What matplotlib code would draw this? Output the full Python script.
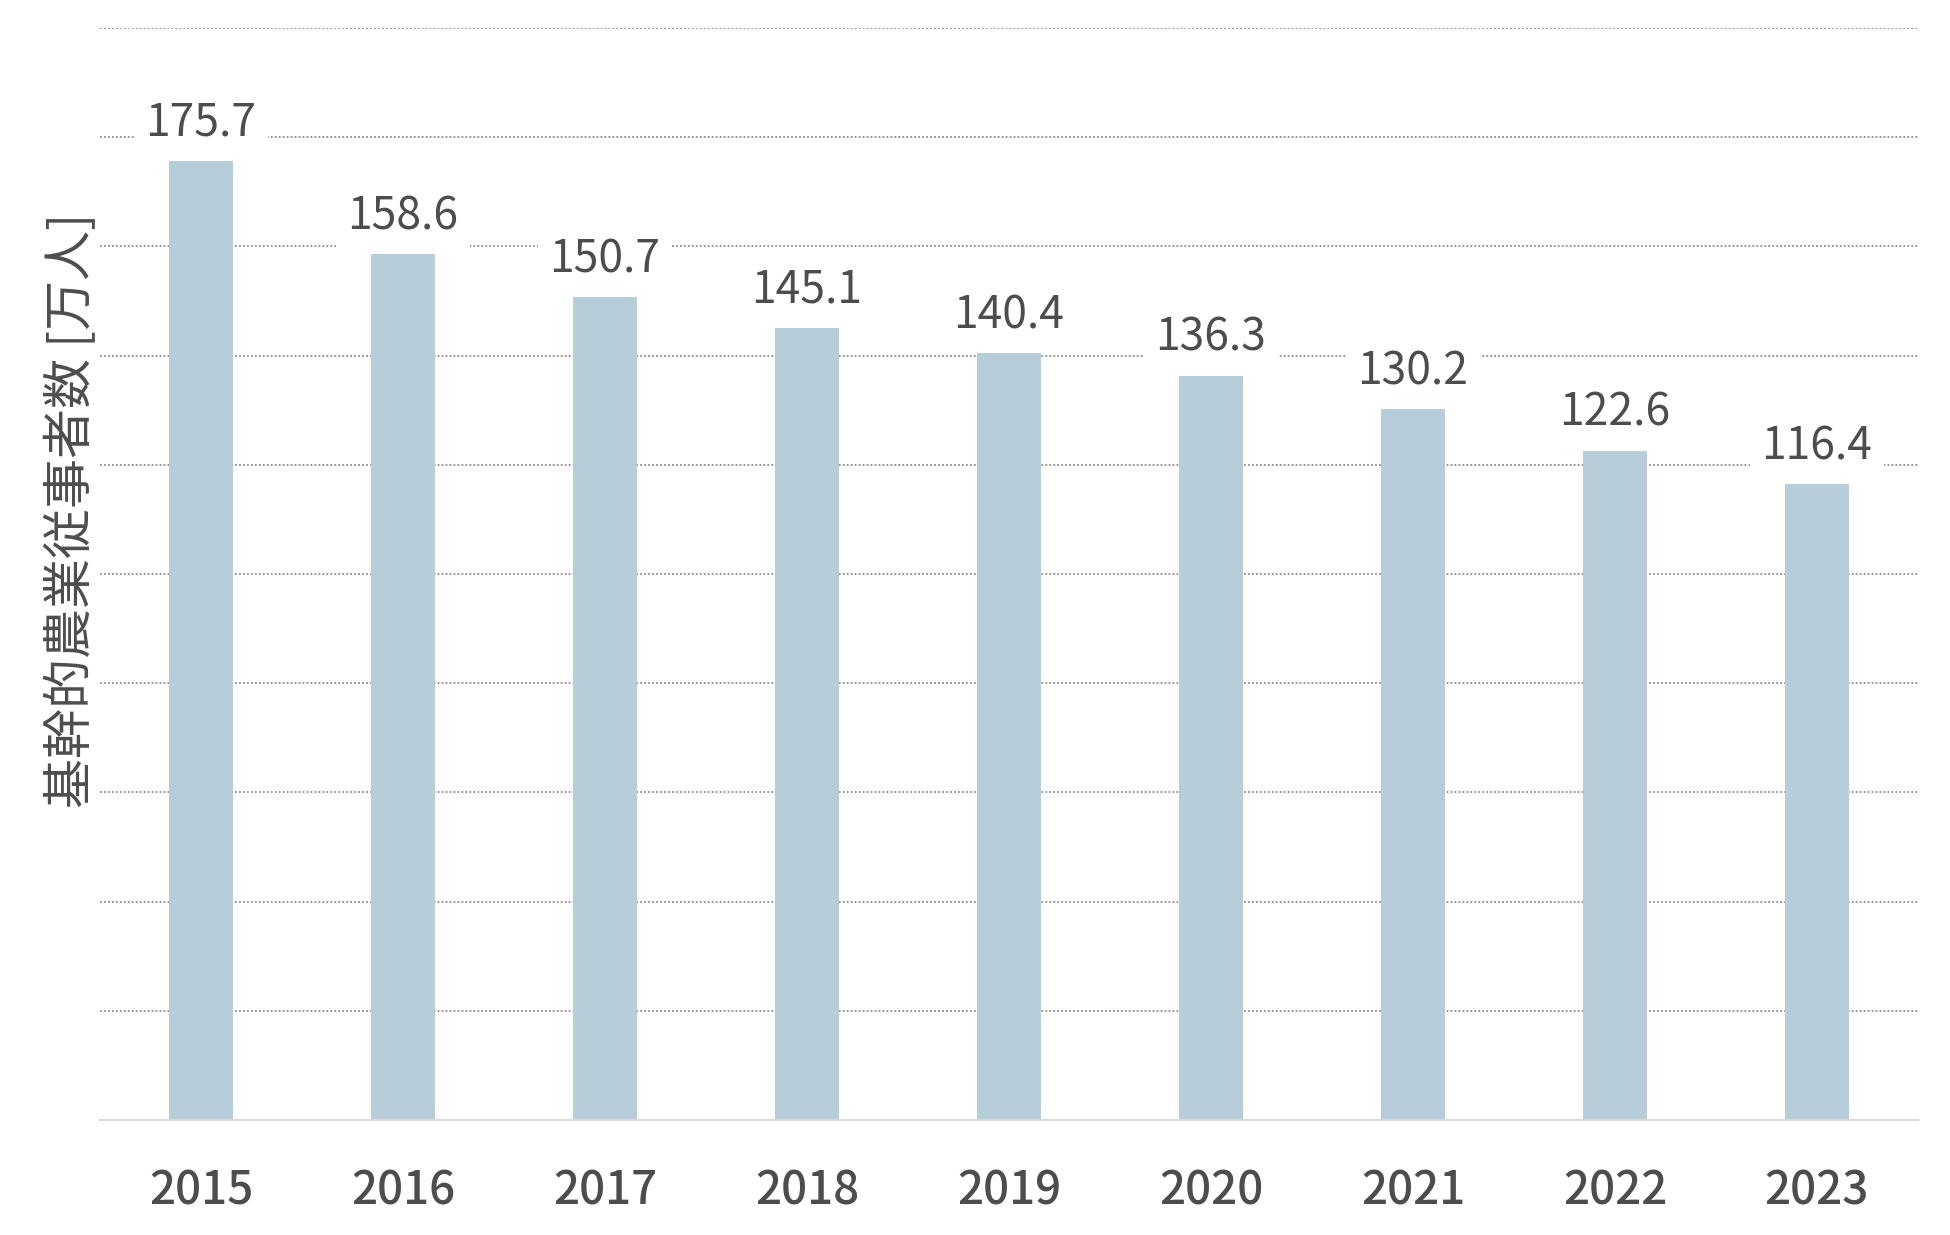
import matplotlib
matplotlib.use("Agg")
import matplotlib.pyplot as plt

years = ["2015", "2016", "2017", "2018", "2019", "2020", "2021", "2022", "2023"]
workers = [175.7, 158.6, 150.7, 145.1, 140.4, 136.3, 130.2, 122.6, 116.4]
grid_ticks = list(range(0, 201, 20))

BAR = "#b7cdda"
INK = "#4d4d4d"
GRID = "#8c8c8c"

plt.rcParams["font.family"] = ["Noto Sans CJK JP", "DejaVu Sans"]

fig = plt.figure(figsize=(19.5, 12.35), dpi=100)
ax = fig.add_axes([0.0513, 0.0931, 0.9323, 0.8842])

x = range(len(years))
ax.bar(x, workers, width=0.317, color=BAR, zorder=2)
ax.set_xlim(-0.5, len(years) - 0.5)
ax.set_ylim(0, 200)

# dotted grid every 20, no y tick labels
ax.set_yticks(grid_ticks)
ax.yaxis.grid(True, linestyle=(0, (1, 1.2)), color=GRID, linewidth=1.3)
ax.set_axisbelow(True)
ax.tick_params(axis="y", left=False, labelleft=False)
ax.tick_params(axis="x", bottom=False, pad=31)
ax.set_xticks(list(x))
ax.set_xticklabels(years, fontsize=33, fontweight="medium", color=INK)

for s in ["top", "right", "left"]:
    ax.spines[s].set_visible(False)
ax.spines["bottom"].set_color("#d9d9d9")
ax.spines["bottom"].set_linewidth(1.5)

for i, v in enumerate(workers):
    ax.annotate(f"{v:.1f}", (i, v), xytext=(0, 18), textcoords="offset points",
                ha="center", va="baseline", fontsize=32, color=INK,
                bbox=dict(boxstyle="square,pad=0.25", fc="white", ec="none"), zorder=3)

fig.text(0.037, 1 - 510 / 1235, "基幹的農業従事者数 [万人]", rotation=90,
         ha="center", va="center", fontsize=36, color=INK)

fig.savefig("out.png", dpi=100, facecolor="white")
